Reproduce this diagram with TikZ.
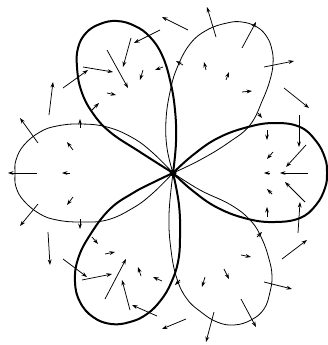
\documentclass[tikz,border=0pt]{standalone}
\usetikzlibrary{arrows.meta}
\tikzset{
  thickpetal/.style={line width=2pt, line join=round},
  thinpetal/.style={line width=0.8pt, line join=round},
  vec/.style={line width=0.75pt, -{Stealth[length=5.5pt,width=3.8pt]}},
}
\begin{document}
\begin{tikzpicture}[x=1pt,y=-1pt]
\useasboundingbox (0,0) rectangle (328,345);
% petals
\draw[thickpetal] plot[smooth, tension=0.7] coordinates {(173,173) (193,155) (218,138) (248,127) (275,123) (300,127) (316,141) (325,158) (327,173) (325,188) (316,205) (300,218) (275,222) (248,219) (218,208) (193,191) (173,173)};
\draw[thinpetal] plot[smooth, tension=0.7] coordinates {(173,173) (153,153) (133,138) (107,127) (80,124) (57,126) (40,132) (24,145) (16,160) (15,173) (16,187) (24,201) (40,214) (57,220) (80,222) (107,220) (133,208) (153,193) (173,173)};
\draw[thickpetal] plot[smooth, tension=0.7] coordinates {(173,173) (140,152) (110,132) (92,112) (81,90) (77,67) (78,48) (86,33) (100,24) (117,21) (135,26) (150,37) (162,55) (170,80) (175,110) (176,142) (173,173)};
\draw[thinpetal] plot[smooth, tension=0.7] coordinates {(173,173) (167,148) (166,120) (170,92) (177,68) (190,44) (207,30) (227,23) (242,22) (257,27) (267,37) (272,50) (273,64) (270,80) (263,99) (250,125) (228,143) (200,160) (173,173)};
\draw[thickpetal] plot[smooth, tension=0.7] coordinates {(173,173) (152,183) (133,193) (110,209) (90,235) (78,259) (75,282) (80,302) (93,317) (111,324) (130,322) (147,314) (161,300) (171,283) (178,262) (180,238) (179,205) (173,173)};
\draw[thinpetal] plot[smooth, tension=0.7] coordinates {(173,173) (200,190) (231,205) (251,221) (262,239) (269,259) (272,276) (270,292) (264,309) (251,320) (234,325) (217,322) (201,312) (187,299) (177,279) (171,250) (169,215) (173,173)};
\fill (173,173) circle (3.5);
% vectors, upper half
\foreach \a/\b/\c/\d in {160/30/134/43, 131/38/123/67, 107/50/128/88, 83/67/113/72, 63/88/88/70,
  143/70/140/80, 163/67/155/70, 107/93/116/95, 92/110/99/103, 49/115/53/82, 80/128/80/119,
  38/143/20/118, 73/150/67/142, 188/30/162/17, 216/37/207/7, 242/48/256/22, 264/67/294/61,
  284/88/309/108, 299/115/299/147, 306/145/286/167, 267/130/267/140, 273/152/267/159,
  242/92/252/91, 226/80/229/72, 206/70/204/62, 183/65/176/61, 258/113/262/118}
  \draw[vec] (\a,\b) -- (\c,\d);
% vectors, middle
\foreach \a/\b/\c/\d in {37/173/8/173, 70/173/62/173, 308/173/280/173, 270/173/264/173}
  \draw[vec] (\a,\b) -- (\c,\d);
% vectors, lower half
\foreach \a/\b/\c/\d in {157/316/132/305, 130/310/122/280, 105/299/126/259, 82/280/112/274,
  63/259/87/277, 141/276/138/267, 162/281/153/277, 105/254/115/252, 92/237/98/244,
  48/232/50/265, 80/219/80/229, 38/204/20/226, 73/197/67/205, 186/319/162/329,
  214/312/206/342, 241/299/256/327, 264/282/292/289, 282/259/307/240, 298/233/300/202,
  305/202/285/182, 267/217/267/207, 272/194/267/189, 241/255/251/257, 224/269/229/279,
  205/277/202/287, 180/280/175/285, 257/237/262/232}
  \draw[vec] (\a,\b) -- (\c,\d);
\end{tikzpicture}
\end{document}
